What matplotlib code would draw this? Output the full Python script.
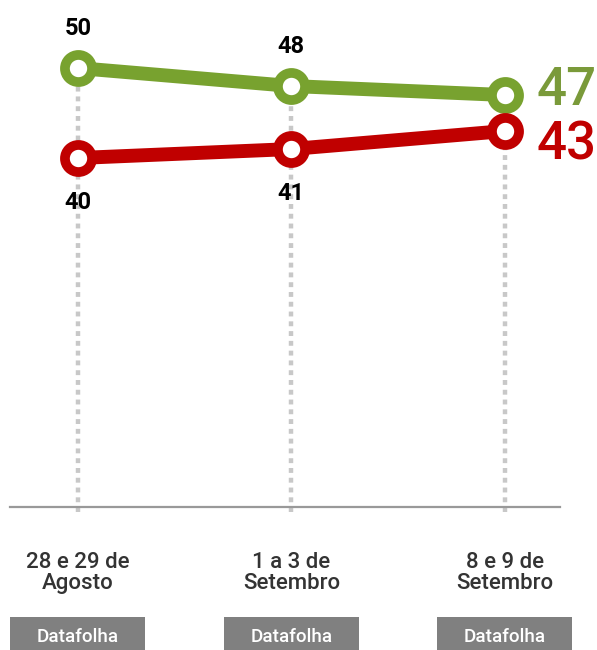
import matplotlib
matplotlib.use("Agg")
import matplotlib.pyplot as plt
import matplotlib.transforms as mtransforms
from matplotlib.patches import Rectangle

categories = ["28 e 29 de\nAgosto", "1 a 3 de\nSetembro", "8 e 9 de\nSetembro"]
sources = ["Datafolha", "Datafolha", "Datafolha"]
green_values = [50, 48, 47]
red_values = [40, 41, 43]

GREEN = "#78a22f"
GREEN_TXT = "#7a9a3a"
RED = "#c00000"

plt.rcParams['font.family'] = ['Roboto', 'DejaVu Sans']

W, H = 597, 650
fig = plt.figure(figsize=(W / 100, H / 100), dpi=100)
ax = fig.add_axes([10 / W, (H - 507) / H, 550 / W, 507 / H])
x = list(range(len(categories)))
ax.set_xlim(-0.318, 2.258)
ax.set_ylim(1.22, 57.56)
ax.axis('off')

# dotted guides
for xi, g, r in zip(x, green_values, red_values):
    ax.plot([xi, xi], [0.7, max(g, r)], color="#c8c8c8", lw=3.2,
            linestyle=(0, (1.1, 1.1)), clip_on=False, zorder=1)

# baseline
ax.axhline(1.22, color="#999999", lw=1.6, zorder=2, clip_on=False)

for vals, col in [(green_values, GREEN), (red_values, RED)]:
    ax.plot(x, vals, color=col, lw=10, solid_capstyle='round', zorder=3)
    ax.plot(x, vals, linestyle='none', marker='o', ms=19.5, mew=7,
            mec=col, mfc='white', zorder=4)

# value labels
for xi, v in zip(x[:2], green_values[:2]):
    ax.annotate(str(v), (xi, v), xytext=(0, 20), textcoords='offset points',
                ha='center', va='bottom', fontsize=17, fontweight='bold', color='black')
for xi, v in zip(x[:2], red_values[:2]):
    ax.annotate(str(v), (xi, v), xytext=(0, -24), textcoords='offset points',
                ha='center', va='top', fontsize=17, fontweight='bold', color='black')

ax.annotate(str(green_values[-1]), (x[-1], green_values[-1]), xytext=(23, 3),
            textcoords='offset points', ha='left', va='center', fontsize=38,
            fontweight='medium', color=GREEN_TXT)
ax.annotate(str(red_values[-1]), (x[-1], red_values[-1]), xytext=(23, -10),
            textcoords='offset points', ha='left', va='center', fontsize=38,
            fontweight='medium', color=RED)

# category labels
tr = mtransforms.blended_transform_factory(ax.transData, fig.transFigure)
for xi, c in zip(x, categories):
    l1, l2 = c.split("\n")
    ax.text(xi, (H - 568) / H, l1, transform=tr, ha='center', va='baseline',
            fontsize=16, fontweight='medium', color="#333333")
    ax.text(xi, (H - 589) / H, l2, transform=tr, ha='center', va='baseline',
            fontsize=16, fontweight='medium', color="#333333")

# source boxes
bw = 135 / 213.5
for xi, s in zip(x, sources):
    ax.add_patch(Rectangle((xi - bw / 2, 0), bw, 33 / H, transform=tr,
                           facecolor="#808080", edgecolor='none', clip_on=False))
    ax.text(xi, 8 / H, s, transform=tr, ha='center', va='baseline',
            fontsize=13.5, fontweight='medium', color='white')

fig.savefig("out.png", dpi=100)
